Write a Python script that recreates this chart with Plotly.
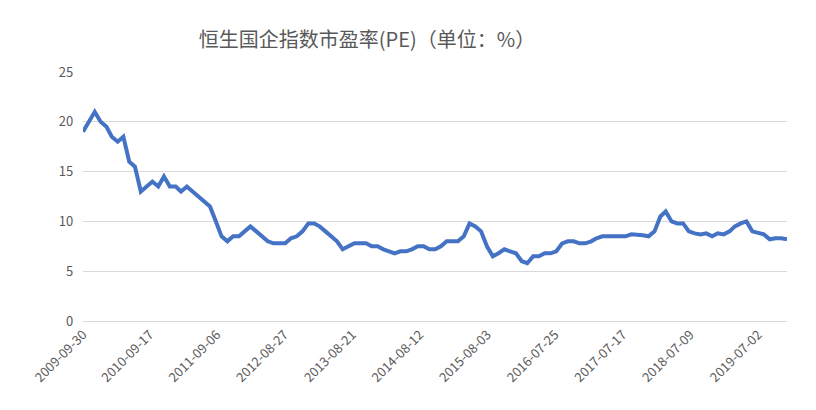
import plotly.graph_objects as go
import pandas as pd

dates = list(pd.date_range("2009-09-30", periods=123, freq="MS").strftime("%Y-%m-%d"))
dates[0] = "2009-09-30"
pe = [19, 20, 21, 20, 19.5, 18.5, 18, 18.5, 16, 15.5, 13, 13.5, 14,
      13.5, 14.5, 13.5, 13.5, 13, 13.5, 13, 12.5, 12, 11.5, 10, 8.5,
      8, 8.5, 8.5, 9, 9.5, 9, 8.5, 8, 7.8, 7.8, 7.8, 8.3,
      8.5, 9, 9.8, 9.8, 9.5, 9, 8.5, 8, 7.2, 7.5, 7.8, 7.8,
      7.8, 7.5, 7.5, 7.2, 7, 6.8, 7, 7, 7.2, 7.5, 7.5, 7.2,
      7.2, 7.5, 8, 8, 8, 8.5, 9.8, 9.5, 9, 7.5, 6.5, 6.8,
      7.2, 7, 6.8, 6, 5.8, 6.5, 6.5, 6.8, 6.8, 7, 7.8, 8,
      8, 7.8, 7.8, 8, 8.3, 8.5, 8.5, 8.5, 8.5, 8.5, 8.7, 8.7,
      8.6, 8.5, 9, 10.5, 11, 10, 9.8, 9.8, 9, 8.8, 8.7, 8.8,
      8.5, 8.8, 8.7, 9, 9.5, 9.8, 10, 9, 8.8, 8.7, 8.2, 8.3,
      8.3, 8.2]
dates = dates[:len(pe)]
tick_dates = ["2009-09-30", "2010-09-17", "2011-09-06", "2012-08-27", "2013-08-21",
              "2014-08-12", "2015-08-03", "2016-07-25", "2017-07-17", "2018-07-09", "2019-07-02"]

fig = go.Figure(go.Scatter(x=dates, y=pe, mode="lines",
                           line=dict(color="#4472C4", width=4)))
fig.update_layout(
    width=816, height=410, plot_bgcolor="white", paper_bgcolor="white",
    margin=dict(l=75, r=37, t=64, b=97), showlegend=False,
    font=dict(family="Noto Sans CJK SC", color="#595959", size=13),
    title=dict(text="恒生国企指数市盈率(PE)（单位：%）", x=0.44, y=0.94,
               font=dict(size=20, color="#595959")),
)
fig.update_xaxes(type="date", tickvals=tick_dates, ticktext=tick_dates, tickangle=-45,
                 range=["2009-09-30", dates[-1]], showgrid=False, showline=True,
                 linecolor="#d9d9d9")
fig.update_yaxes(range=[0, 25], dtick=5, gridcolor="#d9d9d9", zeroline=False,
                 ticksuffix="   ")
fig.write_html("out.html")
